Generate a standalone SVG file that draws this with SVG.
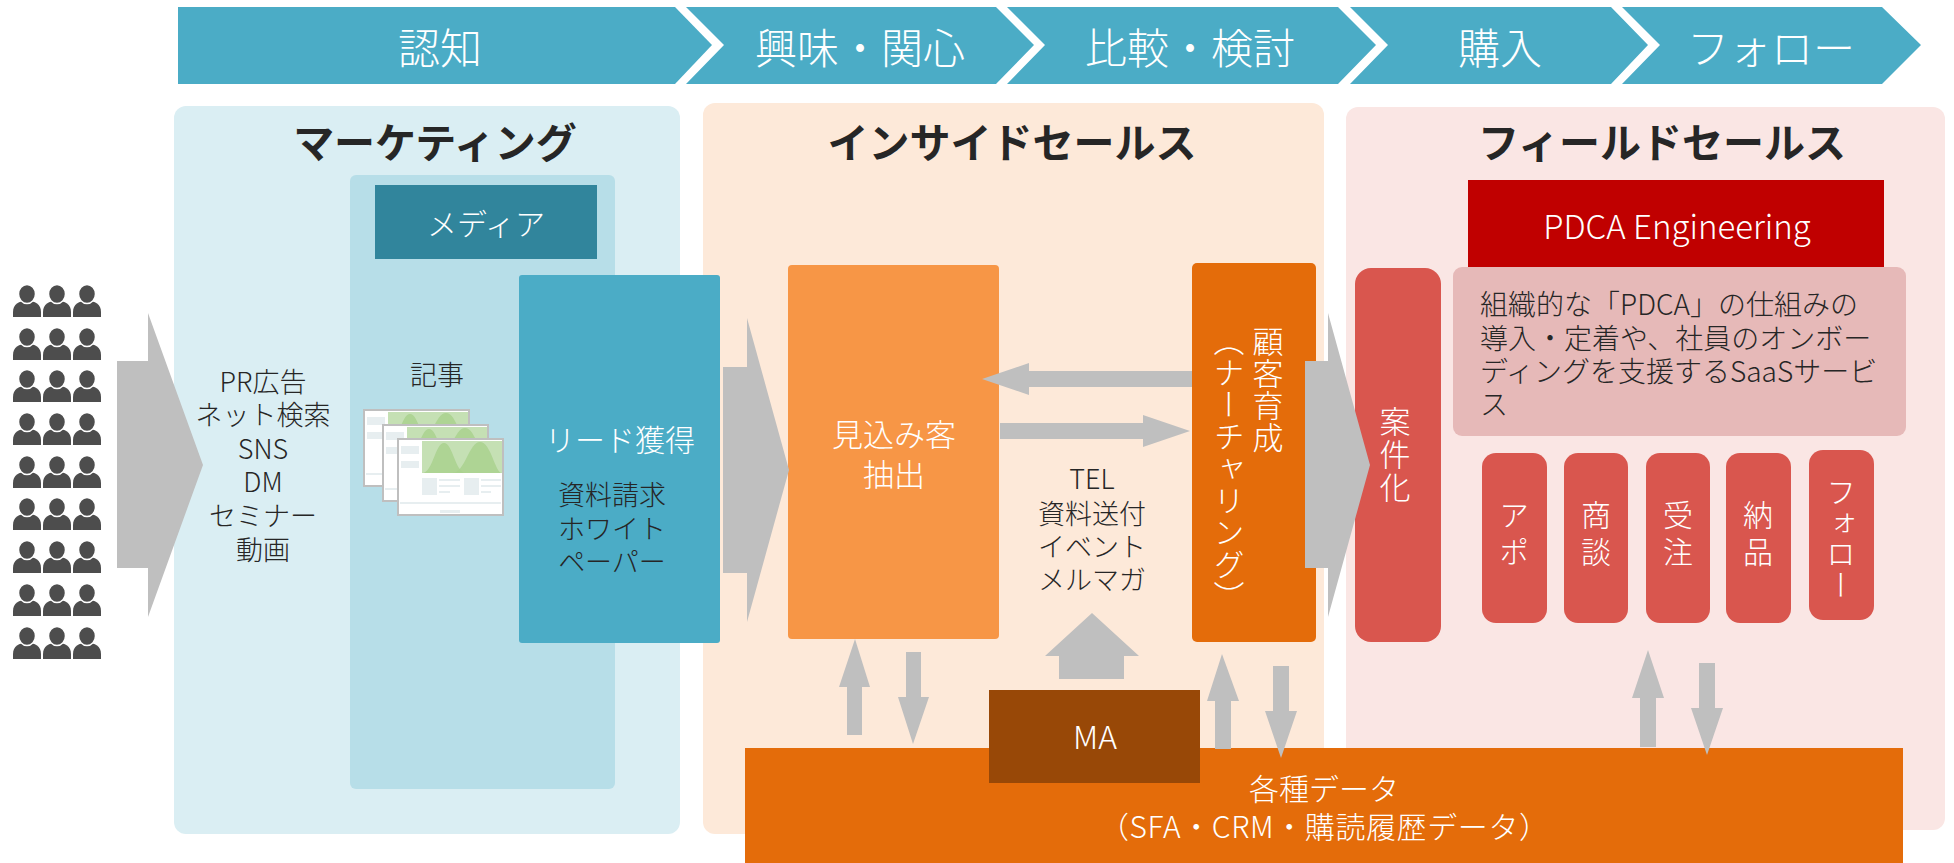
<svg xmlns="http://www.w3.org/2000/svg" width="1954" height="863" viewBox="0 0 1954 863">
  <defs>
    <style>
      text { font-family: "Noto Sans CJK JP", "Noto Sans", sans-serif; dominant-baseline: central; }
      .w { fill: #ffffff; font-weight: 300; }
      .d { fill: #262626; font-weight: 300; }
      .title { fill: #262626; font-weight: 700; font-size: 41px; }
      .stage { fill: #4BACC6; }
      .stage-t { fill: #ffffff; font-weight: 300; font-size: 42px; }
      .gray { fill: #BFBFBF; }
      .v { writing-mode: vertical-rl; }
      .red { fill: #D9564E; }
      .sheet { fill: #E7EEF0; }
    </style>
    <g id="person">
      <path d="M-14,32 L-14,27 C-14,19 -8,16 0,16 C8,16 14,19 14,27 L14,32 Z" fill="#4D4D4D"/>
      <ellipse cx="0" cy="9" rx="8.5" ry="9.5" fill="#4D4D4D" stroke="#ffffff" stroke-width="1.5"/>
    </g>
    <g id="doc">
      <rect x="1" y="1" width="105" height="76" fill="#ffffff" stroke="#BFBFBF" stroke-width="2"/>
      <rect x="25" y="3" width="80" height="32" fill="#C5E0B4"/>
      <path d="M25,35 C36,35 38,5 47,5 C56,5 58,35 69,35 Z" fill="#A9D18E" opacity="0.85"/>
      <path d="M55,35 C68,35 72,4 83,4 C94,4 98,35 105,35 Z" fill="#A9D18E" opacity="0.85"/>
      <rect class="sheet" x="4" y="8" width="18" height="8"/>
      <rect class="sheet" x="4" y="23" width="18" height="7"/>
      <rect class="sheet" x="25" y="40" width="15" height="17"/>
      <rect class="sheet" x="67" y="40" width="15" height="17"/>
      <rect class="sheet" x="42" y="41" width="21" height="2"/>
      <rect class="sheet" x="42" y="47" width="21" height="2"/>
      <rect class="sheet" x="42" y="53" width="11" height="2"/>
      <rect class="sheet" x="84" y="41" width="20" height="2"/>
      <rect class="sheet" x="84" y="47" width="20" height="2"/>
      <rect class="sheet" x="84" y="53" width="10" height="2"/>
      <rect class="sheet" x="3" y="64" width="101" height="2"/>
      <rect class="sheet" x="43" y="72" width="20" height="3"/>
    </g>
  </defs>

  <!-- buying stages -->
  <g id="stages">
    <polygon class="stage" points="178,7 675,7 712,45 675,84 178,84"/>
    <polygon class="stage" points="686,7 996,7 1034,45 996,84 686,84 724,45"/>
    <polygon class="stage" points="1007,7 1338,7 1376,45 1338,84 1007,84 1045,45"/>
    <polygon class="stage" points="1350,7 1611,7 1648,45 1611,84 1350,84 1388,45"/>
    <polygon class="stage" points="1622,7 1882,7 1921,45 1882,84 1622,84 1660,45"/>
    <text class="stage-t" x="440" y="45" text-anchor="middle">認知</text>
    <text class="stage-t" x="860" y="45" text-anchor="middle">興味・関心</text>
    <text class="stage-t" x="1190" y="45" text-anchor="middle">比較・検討</text>
    <text class="stage-t" x="1500" y="45" text-anchor="middle">購入</text>
    <text class="stage-t" x="1771" y="45" text-anchor="middle">フォロー</text>
  </g>

  <!-- audience -->
  <g id="audience">
    <use href="#person" x="27" y="285"/><use href="#person" x="57" y="285"/><use href="#person" x="87" y="285"/>
    <use href="#person" x="27" y="328"/><use href="#person" x="57" y="328"/><use href="#person" x="87" y="328"/>
    <use href="#person" x="27" y="370"/><use href="#person" x="57" y="370"/><use href="#person" x="87" y="370"/>
    <use href="#person" x="27" y="413"/><use href="#person" x="57" y="413"/><use href="#person" x="87" y="413"/>
    <use href="#person" x="27" y="456"/><use href="#person" x="57" y="456"/><use href="#person" x="87" y="456"/>
    <use href="#person" x="27" y="498"/><use href="#person" x="57" y="498"/><use href="#person" x="87" y="498"/>
    <use href="#person" x="27" y="541"/><use href="#person" x="57" y="541"/><use href="#person" x="87" y="541"/>
    <use href="#person" x="27" y="584"/><use href="#person" x="57" y="584"/><use href="#person" x="87" y="584"/>
    <use href="#person" x="27" y="627"/><use href="#person" x="57" y="627"/><use href="#person" x="87" y="627"/>
  </g>

  <!-- department panels -->
  <g id="marketing">
    <rect x="174" y="106" width="506" height="728" rx="12" fill="#DAEEF3"/>
    <text class="title" x="435" y="140" text-anchor="middle">マーケティング</text>
    <g font-size="27" text-anchor="middle">
      <text class="d" x="263" y="380">PR広告</text>
      <text class="d" x="263" y="413">ネット検索</text>
      <text class="d" x="263" y="447">SNS</text>
      <text class="d" x="263" y="480">DM</text>
      <text class="d" x="263" y="514">セミナー</text>
      <text class="d" x="263" y="548">動画</text>
    </g>
  </g>

  <g id="inside-sales">
    <rect x="703" y="103" width="621" height="731" rx="12" fill="#FDE9D9"/>
    <text class="title" x="1012" y="140" text-anchor="middle">インサイドセールス</text>
  </g>

  <g id="field-sales">
    <rect x="1346" y="107" width="599" height="723" rx="12" fill="#FAE6E4"/>
    <text class="title" x="1662" y="140" text-anchor="middle">フィールドセールス</text>
  </g>

  <!-- marketing contents -->
  <g id="media">
    <rect x="350" y="175" width="265" height="614" rx="6" fill="#B7DEE8"/>
    <rect x="375" y="185" width="222" height="74" fill="#31859C"/>
    <text class="w" x="486" y="222" font-size="30" text-anchor="middle">メディア</text>
    <text class="d" x="437" y="373" font-size="27" text-anchor="middle">記事</text>
    <use href="#doc" x="363" y="409"/>
    <use href="#doc" x="382" y="424"/>
    <use href="#doc" x="397" y="438"/>
  </g>

  <g id="lead">
    <rect x="519" y="275" width="201" height="368" rx="3" fill="#4BACC6"/>
    <text class="w" x="620" y="438" font-size="30" text-anchor="middle">リード獲得</text>
    <g font-size="27" text-anchor="middle">
      <text class="d" x="612" y="493">資料請求</text>
      <text class="d" x="612" y="527">ホワイト</text>
      <text class="d" x="612" y="560">ペーパー</text>
    </g>
  </g>

  <!-- inside sales contents -->
  <g id="prospect">
    <rect x="788" y="265" width="211" height="374" rx="4" fill="#F79646"/>
    <text class="w" x="894" y="432" font-size="31" text-anchor="middle">見込み客</text>
    <text class="w" x="894" y="472" font-size="31" text-anchor="middle">抽出</text>
  </g>

  <g id="nurturing">
    <rect x="1192" y="263" width="124" height="379" rx="5" fill="#E46C0A"/>
    <text class="w v" x="1268" y="390" font-size="31" letter-spacing="1" text-anchor="middle">顧客育成</text>
    <text class="w v" x="1229" y="469" font-size="31" letter-spacing="1" text-anchor="middle">（ナーチャリング）</text>
  </g>

  <g id="channels">
    <g font-size="27" text-anchor="middle">
      <text class="d" x="1092" y="477">TEL</text>
      <text class="d" x="1092" y="512">資料送付</text>
      <text class="d" x="1092" y="545">イベント</text>
      <text class="d" x="1092" y="578">メルマガ</text>
    </g>
  </g>

  <!-- field sales contents -->
  <g id="pdca">
    <rect x="1468" y="180" width="416" height="91" fill="#C00000"/>
    <text class="w" x="1677" y="225" font-size="33" text-anchor="middle">PDCA Engineering</text>
  </g>

  <g id="service">
    <rect x="1453" y="267" width="453" height="169" rx="9" fill="#E6B9B8"/>
    <g font-size="28">
      <text class="d" x="1480" y="303">組織的な「PDCA」の仕組みの</text>
      <text class="d" x="1480" y="337">導入・定着や、社員のオンボー</text>
      <text class="d" x="1480" y="370">ディングを支援するSaaSサービ</text>
      <text class="d" x="1480" y="403">ス</text>
    </g>
  </g>

  <g id="deal">
    <rect class="red" x="1355" y="268" width="86" height="374" rx="16"/>
    <text class="w v" x="1395" y="455" font-size="31" letter-spacing="2" text-anchor="middle">案件化</text>
  </g>

  <g id="appointment">
    <rect class="red" x="1482" y="453" width="65" height="170" rx="14"/>
    <text class="w v" x="1514" y="537" font-size="30" letter-spacing="7" text-anchor="middle">アポ</text>
  </g>
  <g id="negotiation">
    <rect class="red" x="1564" y="453" width="64" height="170" rx="14"/>
    <text class="w v" x="1596" y="537" font-size="30" letter-spacing="7" text-anchor="middle">商談</text>
  </g>
  <g id="order">
    <rect class="red" x="1646" y="453" width="64" height="170" rx="14"/>
    <text class="w v" x="1678" y="537" font-size="30" letter-spacing="7" text-anchor="middle">受注</text>
  </g>
  <g id="delivery">
    <rect class="red" x="1726" y="453" width="65" height="170" rx="14"/>
    <text class="w v" x="1758" y="537" font-size="30" letter-spacing="7" text-anchor="middle">納品</text>
  </g>
  <g id="follow">
    <rect class="red" x="1809" y="450" width="65" height="170" rx="14"/>
    <text class="w v" x="1841" y="539" font-size="30" letter-spacing="1" text-anchor="middle">フォロー</text>
  </g>

  <!-- shared data layer -->
  <g id="data">
    <rect x="745" y="748" width="1158" height="130" fill="#E46C0A"/>
    <text class="w" x="1324" y="787" font-size="30" text-anchor="middle">各種データ</text>
    <text class="w" x="1324" y="825" font-size="30" text-anchor="middle" textLength="450" lengthAdjust="spacing">（SFA・CRM・購読履歴データ）</text>
  </g>

  <g id="ma">
    <rect x="989" y="690" width="211" height="93" fill="#984807"/>
    <text class="w" x="1095" y="735" font-size="32" text-anchor="middle">MA</text>
  </g>

  <!-- flow arrows -->
  <g id="connectors">
    <polygon class="gray" points="117,361 148,361 148,313 203,465 148,617 148,568 117,568"/>
    <polygon class="gray" points="723,367 747,367 747,318 789,470 747,622 747,573 723,573"/>
    <polygon class="gray" points="1305,361 1328,361 1328,313 1370,465 1328,617 1328,568 1305,568"/>
    <polygon class="gray" points="982,379 1029,363 1029,371 1192,371 1192,387 1029,387 1029,395"/>
    <polygon class="gray" points="1000,423 1143,423 1143,415 1190,431 1143,447 1143,439 1000,439"/>
    <polygon class="gray" points="1092,613 1139,656 1124,656 1124,679 1059,679 1059,656 1045,656"/>
    <polygon class="gray" points="855,639 870,687 862,687 862,735 847,735 847,687 839,687"/>
    <polygon class="gray" points="906,652 921,652 921,697 929,697 913,744 898,697 906,697"/>
    <polygon class="gray" points="1222,654 1239,701 1231,701 1231,749 1215,749 1215,701 1207,701"/>
    <polygon class="gray" points="1273,666 1289,666 1289,711 1297,711 1281,758 1265,711 1273,711"/>
    <polygon class="gray" points="1648,650 1664,698 1656,698 1656,747 1640,747 1640,698 1632,698"/>
    <polygon class="gray" points="1699,663 1715,663 1715,708 1723,708 1707,755 1691,708 1699,708"/>
  </g>
</svg>
